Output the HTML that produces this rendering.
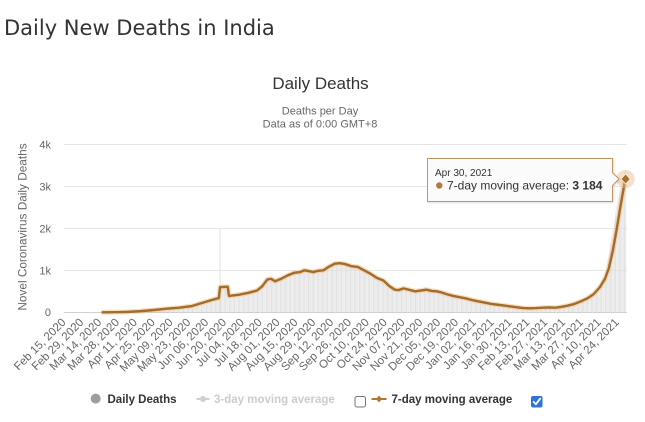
<!DOCTYPE html>
<html><head><meta charset="utf-8"><style>
html,body{margin:0;padding:0;background:#fff;width:645px;height:422px;overflow:hidden;}
svg{display:block;}
</style></head><body>
<svg width="645" height="422" viewBox="0 0 645 422" xmlns="http://www.w3.org/2000/svg">
<defs>
<pattern id="bars" x="64.6" y="0" width="1.2745" height="20" patternUnits="userSpaceOnUse"><rect x="0" y="0" width="0.8" height="20" fill="#dedede"/></pattern>
<filter id="sh" x="-10%" y="-10%" width="130%" height="140%"><feDropShadow dx="1" dy="1" stdDeviation="1" flood-color="#000" flood-opacity="0.12"/></filter>
</defs>
<text x="4" y="35" font-family="DejaVu Sans, sans-serif" font-size="21" fill="#333">Daily New Deaths in India</text>
<g font-family="Liberation Sans, sans-serif" text-anchor="middle">
<text x="320.5" y="89" font-size="17" fill="#333">Daily Deaths</text>
<text x="320" y="114.5" font-size="11" fill="#666">Deaths per Day</text>
<text x="320" y="127.5" font-size="11" fill="#666">Data as of 0:00 GMT+8</text>
</g>
<!-- gridlines -->
<g stroke="#e6e6e6" stroke-width="1">
<line x1="64" y1="144.5" x2="627" y2="144.5"/>
<line x1="64" y1="186.5" x2="627" y2="186.5"/>
<line x1="64" y1="228.5" x2="627" y2="228.5"/>
<line x1="64" y1="270.5" x2="627" y2="270.5"/>
</g>
<!-- y labels -->
<g font-family="Liberation Sans, sans-serif" font-size="11" fill="#666" text-anchor="end">
<text x="51" y="148.5">4k</text>
<text x="51" y="190.5">3k</text>
<text x="51" y="232.5">2k</text>
<text x="51" y="274.5">1k</text>
<text x="51" y="316">0</text>
</g>
<text transform="translate(26.5,227) rotate(-90)" font-family="Liberation Sans, sans-serif" font-size="11.8" fill="#666" text-anchor="middle">Novel Coronavirus Daily Deaths</text>
<!-- bars -->
<path fill="url(#bars)" d="M101.56,312.3 L115.58,312.17 L128.33,311.88 L141.07,311.13 L153.82,310.0 L166.56,308.73 L179.31,307.69 L192.05,306.01 L200.97,303.28 L211.17,300.13 L218.81,298.04 L220.09,287.13 L227.74,286.71 L229.01,295.94 L239.21,294.68 L249.40,292.58 L257.05,290.49 L262.15,286.29 L267.25,279.58 L271.07,278.74 L274.89,281.26 L281.27,278.74 L287.64,275.38 L294.01,272.87 L300.38,272.03 L304.21,270.35 L309.30,271.19 L313.13,272.03 L318.23,270.77 L323.32,270.35 L328.42,266.99 L334.79,263.64 L339.89,263.22 L344.99,264.06 L351.36,266.16 L357.74,266.99 L364.11,270.35 L370.48,273.71 L376.85,277.90 L383.23,280.42 L389.60,286.29 L394.70,289.65 L398.52,290.07 L403.62,288.39 L408.72,289.65 L415.09,291.32 L421.46,290.49 L426.56,289.65 L431.66,290.91 L436.75,291.32 L440.58,292.16 L446.95,294.26 L453.32,295.94 L459.70,297.20 L466.07,298.46 L472.44,300.13 L478.81,301.39 L485.19,302.65 L491.56,303.91 L497.93,304.75 L504.30,305.59 L510.68,306.43 L517.05,307.27 L523.42,308.11 L529.79,308.31 L536.17,308.11 L542.54,307.69 L548.91,307.48 L555.28,307.69 L561.66,306.85 L568.03,305.59 L574.40,303.91 L580.77,301.39 L587.15,298.46 L593.52,294.26 L599.89,287.13 L604.99,276.74 L610.1,245.2 L613.9,224.2 L617.7,199.0 L621.6,182.3 L625.4,169.7 L626.3,169.7 L626.3,312.3 Z"/>
<rect x="219.6" y="228.3" width="0.9" height="84" fill="#dcdcdc"/>
<!-- x axis line -->
<line x1="64" y1="312.5" x2="627" y2="312.5" stroke="#d0d0d0" stroke-width="1"/>
<!-- 7-day line -->
<polyline fill="none" stroke="#f2c48e" stroke-opacity="0.55" stroke-width="5" stroke-linejoin="round" points="101.56,312.3 115.58,312.17 128.33,311.88 141.07,311.13 153.82,310.0 166.56,308.73 179.31,307.69 192.05,306.01 200.97,303.28 211.17,300.13 218.81,298.04 220.09,287.13 227.74,286.71 229.01,295.94 239.21,294.68 249.40,292.58 257.05,290.49 262.15,286.29 267.25,279.58 271.07,278.74 274.89,281.26 281.27,278.74 287.64,275.38 294.01,272.87 300.38,272.03 304.21,270.35 309.30,271.19 313.13,272.03 318.23,270.77 323.32,270.35 328.42,266.99 334.79,263.64 339.89,263.22 344.99,264.06 351.36,266.16 357.74,266.99 364.11,270.35 370.48,273.71 376.85,277.90 383.23,280.42 389.60,286.29 394.70,289.65 398.52,290.07 403.62,288.39 408.72,289.65 415.09,291.32 421.46,290.49 426.56,289.65 431.66,290.91 436.75,291.32 440.58,292.16 446.95,294.26 453.32,295.94 459.70,297.20 466.07,298.46 472.44,300.13 478.81,301.39 485.19,302.65 491.56,303.91 497.93,304.75 504.30,305.59 510.68,306.43 517.05,307.27 523.42,308.11 529.79,308.31 536.17,308.11 542.54,307.69 548.91,307.48 555.28,307.69 561.66,306.85 568.03,305.59 574.40,303.91 580.77,301.39 587.15,298.46 593.52,294.26 599.89,287.13 604.99,278.74 608.81,268.25 612.64,251.47 616.46,230.50 620.28,207.43 622.83,192.74 625.38,178.73"/>
<polyline fill="none" stroke="#a26d2c" stroke-width="2.4" stroke-linejoin="round" points="101.56,312.3 115.58,312.17 128.33,311.88 141.07,311.13 153.82,310.0 166.56,308.73 179.31,307.69 192.05,306.01 200.97,303.28 211.17,300.13 218.81,298.04 220.09,287.13 227.74,286.71 229.01,295.94 239.21,294.68 249.40,292.58 257.05,290.49 262.15,286.29 267.25,279.58 271.07,278.74 274.89,281.26 281.27,278.74 287.64,275.38 294.01,272.87 300.38,272.03 304.21,270.35 309.30,271.19 313.13,272.03 318.23,270.77 323.32,270.35 328.42,266.99 334.79,263.64 339.89,263.22 344.99,264.06 351.36,266.16 357.74,266.99 364.11,270.35 370.48,273.71 376.85,277.90 383.23,280.42 389.60,286.29 394.70,289.65 398.52,290.07 403.62,288.39 408.72,289.65 415.09,291.32 421.46,290.49 426.56,289.65 431.66,290.91 436.75,291.32 440.58,292.16 446.95,294.26 453.32,295.94 459.70,297.20 466.07,298.46 472.44,300.13 478.81,301.39 485.19,302.65 491.56,303.91 497.93,304.75 504.30,305.59 510.68,306.43 517.05,307.27 523.42,308.11 529.79,308.31 536.17,308.11 542.54,307.69 548.91,307.48 555.28,307.69 561.66,306.85 568.03,305.59 574.40,303.91 580.77,301.39 587.15,298.46 593.52,294.26 599.89,287.13 604.99,278.74 608.81,268.25 612.64,251.47 616.46,230.50 620.28,207.43 622.83,192.74 625.38,178.73"/>
<!-- end marker -->
<circle cx="625.6" cy="179" r="9" fill="#e9b884" fill-opacity="0.45"/>
<path d="M625.6,174 L630.2,179 L625.6,184 L621,179 Z" fill="#a8702c" stroke="#fff" stroke-width="0.6"/>
<!-- x labels -->
<g font-family="Liberation Sans, sans-serif" font-size="11.5" fill="#666" text-anchor="end">
<text transform="translate(66.4,323) rotate(-45)">Feb 15, 2020</text>
<text transform="translate(84.2,323) rotate(-45)">Feb 29, 2020</text>
<text transform="translate(102.1,323) rotate(-45)">Mar 14, 2020</text>
<text transform="translate(119.9,323) rotate(-45)">Mar 28, 2020</text>
<text transform="translate(137.8,323) rotate(-45)">Apr 11, 2020</text>
<text transform="translate(155.6,323) rotate(-45)">Apr 25, 2020</text>
<text transform="translate(173.5,323) rotate(-45)">May 09, 2020</text>
<text transform="translate(191.3,323) rotate(-45)">May 23, 2020</text>
<text transform="translate(209.2,323) rotate(-45)">Jun 06, 2020</text>
<text transform="translate(227.0,323) rotate(-45)">Jun 20, 2020</text>
<text transform="translate(244.8,323) rotate(-45)">Jul 04, 2020</text>
<text transform="translate(262.7,323) rotate(-45)">Jul 18, 2020</text>
<text transform="translate(280.5,323) rotate(-45)">Aug 01, 2020</text>
<text transform="translate(298.4,323) rotate(-45)">Aug 15, 2020</text>
<text transform="translate(316.2,323) rotate(-45)">Aug 29, 2020</text>
<text transform="translate(334.1,323) rotate(-45)">Sep 12, 2020</text>
<text transform="translate(351.9,323) rotate(-45)">Sep 26, 2020</text>
<text transform="translate(369.8,323) rotate(-45)">Oct 10, 2020</text>
<text transform="translate(387.6,323) rotate(-45)">Oct 24, 2020</text>
<text transform="translate(405.4,323) rotate(-45)">Nov 07, 2020</text>
<text transform="translate(423.3,323) rotate(-45)">Nov 21, 2020</text>
<text transform="translate(441.1,323) rotate(-45)">Dec 05, 2020</text>
<text transform="translate(459.0,323) rotate(-45)">Dec 19, 2020</text>
<text transform="translate(476.8,323) rotate(-45)">Jan 02, 2021</text>
<text transform="translate(494.7,323) rotate(-45)">Jan 16, 2021</text>
<text transform="translate(512.5,323) rotate(-45)">Jan 30, 2021</text>
<text transform="translate(530.3,323) rotate(-45)">Feb 13, 2021</text>
<text transform="translate(548.2,323) rotate(-45)">Feb 27, 2021</text>
<text transform="translate(566.0,323) rotate(-45)">Mar 13, 2021</text>
<text transform="translate(583.9,323) rotate(-45)">Mar 27, 2021</text>
<text transform="translate(601.7,323) rotate(-45)">Apr 10, 2021</text>
<text transform="translate(619.6,323) rotate(-45)">Apr 24, 2021</text>
</g>
<!-- tooltip -->
<path filter="url(#sh)" d="M427.5,158.5 L612.5,158.5 L612.5,172.5 L619,179 L612.5,185.5 L612.5,201.5 L427.5,201.5 Z" fill="#fbfbfb" fill-opacity="0.95" stroke="#c39560" stroke-width="1"/>
<g font-family="Liberation Sans, sans-serif" fill="#333">
<text x="435" y="176" font-size="10">Apr 30, 2021</text>
<circle cx="439.3" cy="185.5" r="3.2" fill="#b07a3a"/>
<text x="447" y="189.5" font-size="12">7-day moving average: <tspan font-weight="bold">3 184</tspan></text>
</g>
<!-- legend -->
<g font-family="Liberation Sans, sans-serif" font-size="11.5" font-weight="bold">
<circle cx="95.7" cy="398.6" r="5" fill="#9e9e9e"/>
<text x="107.5" y="403" fill="#333">Daily Deaths</text>
<line x1="196.5" y1="399" x2="209.5" y2="399" stroke="#d0d0d0" stroke-width="2"/>
<circle cx="203" cy="399" r="3" fill="#d0d0d0"/>
<text x="214" y="403" fill="#cccccc">3-day moving average</text>
<rect x="355" y="396.5" width="10.5" height="10.5" rx="2" fill="#fff" stroke="#767676" stroke-width="1"/>
<line x1="371.5" y1="399" x2="386.5" y2="399" stroke="#b0782f" stroke-width="2"/>
<path d="M379,395.5 L382,399 L379,402.5 L376,399 Z" fill="#b0782f"/>
<text x="391.5" y="403" fill="#333">7-day moving average</text>
<rect x="531" y="396" width="11.5" height="11.5" rx="2" fill="#2f72dc"/>
<path d="M533.6,401.8 L535.9,404.3 L540.2,398.6" fill="none" stroke="#fff" stroke-width="1.8" stroke-linecap="round" stroke-linejoin="round"/>
</g>
</svg>
</body></html>
